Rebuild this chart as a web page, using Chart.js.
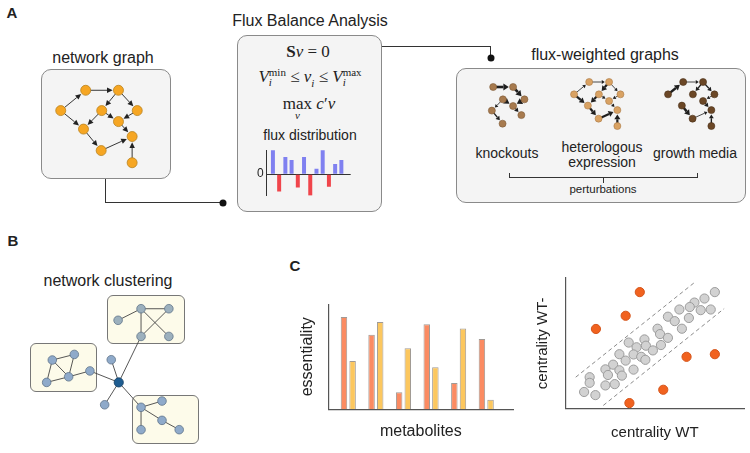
<!DOCTYPE html>
<html>
<head>
<meta charset="utf-8">
<script src="https://cdn.jsdelivr.net/npm/chart.js@4.4.1/dist/chart.umd.min.js"></script>
<style>
  html, body { margin: 0; padding: 0; }
  body { width: 750px; height: 453px; position: relative; overflow: hidden; background: #fff;
         font-family: "Liberation Sans", Arial, sans-serif; color: #222; }
  .box { position: absolute; box-sizing: border-box; background: #f4f4f4; border: 1px solid #8a8a8a; border-radius: 10px; }
  .cbox { position: absolute; box-sizing: border-box; background: #fdfbea; border: 1px solid #777; border-radius: 6px; }
  .lbl { position: absolute; white-space: nowrap; transform: translate(-50%, -50%); line-height: 1.15; }
  .letter { position: absolute; font-weight: bold; font-size: 15px; transform: translate(-50%, -50%); }
  .hl { position: absolute; border-top: 1px solid #333; height: 0; }
  .vl { position: absolute; border-left: 1px solid #333; width: 0; }
  .dot { position: absolute; width: 7px; height: 7px; border-radius: 50%; background: #111; transform: translate(-50%, -50%); }
  .eq { position: absolute; white-space: nowrap; transform: translate(-50%, -50%); font-family: "Liberation Serif", serif; font-size: 17px; }
  .ss { display: inline-block; vertical-align: -4px; font-size: 11px; line-height: 10px; }
  .op { position: relative; display: inline-block; }
  .under { position: absolute; left: 50%; top: 15px; transform: translateX(-50%); font-size: 11px; font-style: italic; }
  canvas { position: absolute; }
</style>
</head>
<body>

<!-- panel letters -->
<div class="letter" style="left:12px;top:12px">A</div>
<div class="letter" style="left:13px;top:240px">B</div>
<div class="letter" style="left:295px;top:265px">C</div>

<!-- A: network graph -->
<div class="lbl" style="left:103px;top:58px;font-size:16px">network graph</div>
<div class="box" style="left:41px;top:69px;width:130px;height:110px"></div>
<div class="vl" style="left:105px;top:179px;height:23px"></div>
<div class="hl" style="left:105px;top:202px;width:118px"></div>
<div class="dot" style="left:223px;top:202.5px"></div>
<canvas id="netA" width="130" height="110" style="left:41px;top:69px"></canvas>

<!-- A: FBA -->
<div class="lbl" style="left:310px;top:21px;font-size:16px">Flux Balance Analysis</div>
<div class="box" style="left:237px;top:35px;width:145px;height:177px"></div>
<div class="eq" style="left:308px;top:52px"><b>S</b><i>v</i> = 0</div>
<div class="eq" style="left:310px;top:78px"><i>V</i><span class="ss">min<br><i>i</i></span> &le; <i>v</i><sub style="font-size:11px"><i>i</i></sub> &le; <i>V</i><span class="ss">max<br><i>i</i></span></div>
<div class="eq" style="left:309px;top:104px"><span class="op">max<span class="under">v</span></span> <i>c</i>&prime;<i>v</i></div>
<div class="lbl" style="left:310px;top:135px;font-size:14px">flux distribution</div>
<canvas id="flux" width="98" height="66" style="left:255px;top:140px"></canvas>
<div class="hl" style="left:382px;top:46px;width:108px"></div>
<div class="vl" style="left:490px;top:46px;height:12px"></div>
<div class="dot" style="left:490.5px;top:58px"></div>

<!-- A: flux-weighted graphs -->
<div class="lbl" style="left:605px;top:55px;font-size:16px">flux-weighted graphs</div>
<div class="box" style="left:456px;top:68px;width:290px;height:135px"></div>
<canvas id="gKO" width="81" height="69" style="left:465px;top:73px"></canvas>
<canvas id="gHet" width="81" height="69" style="left:561px;top:68px"></canvas>
<canvas id="gGM" width="81" height="69" style="left:655px;top:68px"></canvas>
<div class="lbl" style="left:507px;top:153px;font-size:14px">knockouts</div>
<div class="lbl" style="left:602px;top:147px;font-size:14px">heterologous</div>
<div class="lbl" style="left:602px;top:162px;font-size:14px">expression</div>
<div class="lbl" style="left:695px;top:153px;font-size:14px">growth media</div>
<div style="position:absolute;left:509px;top:173px;width:189px;height:5px;border:1px solid #333;border-top:none;box-sizing:border-box"></div>
<div class="vl" style="left:603px;top:178px;height:5px"></div>
<div class="lbl" style="left:603px;top:190px;font-size:11.5px">perturbations</div>

<!-- B: network clustering -->
<div class="lbl" style="left:108px;top:281px;font-size:16px">network clustering</div>
<div class="cbox" style="left:107px;top:295px;width:78px;height:49px"></div>
<div class="cbox" style="left:30px;top:343px;width:67px;height:49px"></div>
<div class="cbox" style="left:132px;top:395px;width:67px;height:49px"></div>
<canvas id="clust" width="180" height="160" style="left:25px;top:290px"></canvas>

<!-- C -->
<canvas id="ess" width="219" height="145" style="left:297px;top:296px"></canvas>
<canvas id="cent" width="216" height="173" style="left:534px;top:270px"></canvas>

<script>
// ---------- data ----------
// A: metabolic network, node layout in box units (130 x 110)
const netX = [42.7, 78.7, 15.3, 60.3, 99.3, 78.7, 40.3, 93.7, 59.7, 93.7];
const netY = [17.3, 17.3, 40, 40, 40, 52.3, 60.7, 69, 84.7, 98.3];
const netEdges = [[2, 0], [0, 1], [1, 3], [1, 4], [2, 6], [3, 6], [3, 5], [4, 5], [5, 7], [6, 8], [8, 7], [9, 7]];

// A: flux distribution
const fluxVals = [3.1, -2.2, 2.2, 1.8, -1.7, 2.2, -2.7, 0.7, 3.1, -1.6, 1.3, 1.8];

// A: flux-weighted graphs, edges as [from, to, flux]
const allNodes = [0, 1, 2, 3, 4, 5, 6, 7, 8, 9];
const koNodes = [0, 1, 3, 4, 5, 6, 7, 8];
const koEdges = [[0, 1, 2.6], [1, 4, 2.6], [4, 5, 2.6], [3, 5, 2.6], [3, 6, 0.8], [5, 7, 1.4], [6, 8, 1.4]];
const hetEdges = [[2, 0, 0.8], [0, 1, 0.8], [1, 3, 2.2], [1, 4, 0.8], [2, 6, 2.2], [3, 6, 2.2], [3, 5, 0.8],
                  [4, 5, 0.8], [5, 7, 0.8], [6, 8, 2.2], [8, 7, 2.2], [9, 7, 2.2]];
const gmEdges = [[2, 0, 2.4], [0, 1, 0.8], [1, 3, 1.4], [1, 4, 1.4], [4, 5, 0.8], [5, 7, 1.4],
                 [6, 8, 2.4], [8, 7, 0.8], [9, 7, 1.4]];

// B: clustered network (units of 180 x 160)
const clX = [117.7, 147.3, 93.3, 117.7, 147.3, 23.3, 46.7, 40.7, 17.3, 63.3, 94, 86, 79, 117.7, 140, 140, 158.3, 117.7];
const clY = [14.3, 14.3, 26.7, 44, 44, 69.3, 63.3, 87.3, 93.3, 81, 93.3, 69, 117.3, 120, 113.3, 134, 144, 144];
const clGroup = ['t', 't', 't', 't', 't', 'l', 'l', 'l', 'l', 'l', 'hub', 'u', 'u', 'b', 'b', 'b', 'b', 'b'];
const clEdges = [[2, 0], [0, 1], [0, 3], [0, 4], [1, 3], [5, 6], [5, 7], [6, 7], [5, 8], [8, 7], [7, 9],
                 [10, 9], [10, 11], [10, 12], [10, 3], [10, 13], [13, 14], [13, 15], [15, 16], [13, 17]];

// C: essentiality per metabolite
const metabolites = [1, 2, 3, 4, 5, 6];
const essA = [0.88, 0.71, 0.16, 0.81, 0.25, 0.67];
const essB = [0.46, 0.83, 0.58, 0.40, 0.77, 0.09];

// C: centrality WT vs WT-
const grayX = [83.5, 77.7, 72.1, 69.5, 63.7, 75.6, 81.2, 69.0, 57.3, 61.1, 65.1, 51.5, 52.9, 57.3, 44.2, 35.4, 39.8, 45.0, 53.4,
               48.9, 30.2, 38.1, 42.4, 33.7, 44.7, 26.7, 22.4, 30.2, 38.1, 13.6, 23.8, 31.6, 13.6, 22.4, 27.6, 10.5, 16.8];
const grayY = [89.2, 84.3, 81.2, 77.8, 75.9, 75.4, 75.9, 69.4, 70.4, 67.0, 61.2, 61.2, 57.1, 54.2, 53.0, 50.6, 47.0, 48.2, 48.7,
               44.6, 41.7, 41.5, 39.7, 36.8, 37.4, 33.7, 30.1, 29.4, 29.9, 24.1, 25.8, 25.3, 19.8, 17.8, 18.8, 12.8, 10.4];
const outX = [41.6, 33.7, 17.1, 67.7, 83.5, 54.7, 35.8];
const outY = [89.2, 71.1, 61.0, 39.7, 41.7, 14.5, 4.3];
const bandUpX = [5.8, 73.0], bandUpY = [24.1, 97.5];
const bandLoX = [21.2, 88.7], bandLoY = [2.5, 76.6];

// ---------- helpers ----------
Chart.defaults.font.family = '"Liberation Sans", Arial, sans-serif';
Chart.defaults.color = '#222';

const pts = (xs, ys) => xs.map((x, i) => ({ x: x, y: ys[i] }));

// draws edges (optionally arrows) between nodes using the chart scales
function edgeLayer(xs, ys, edges, st) {
  return {
    id: 'edges',
    beforeDatasetsDraw(chart) {
      const ctx = chart.ctx, sx = chart.scales.x, sy = chart.scales.y;
      ctx.save();
      ctx.strokeStyle = st.color;
      ctx.fillStyle = st.color;
      edges.forEach(e => {
        const w = e[2] || st.width;
        const x1 = sx.getPixelForValue(xs[e[0]]), y1 = sy.getPixelForValue(ys[e[0]]);
        const x2 = sx.getPixelForValue(xs[e[1]]), y2 = sy.getPixelForValue(ys[e[1]]);
        const a = Math.atan2(y2 - y1, x2 - x1), c = Math.cos(a), s = Math.sin(a);
        ctx.lineWidth = w;
        ctx.beginPath();
        ctx.moveTo(x1, y1);
        if (st.arrows) {
          const ex = x2 - c * (st.r + 0.8), ey = y2 - s * (st.r + 0.8);
          const L = st.head + w * 1.3, H = st.headW + w * 0.8;
          const bx = ex - c * L, by = ey - s * L;
          ctx.lineTo(bx, by);
          ctx.stroke();
          ctx.beginPath();
          ctx.moveTo(ex, ey);
          ctx.lineTo(bx - s * H, by + c * H);
          ctx.lineTo(bx + s * H, by - c * H);
          ctx.closePath();
          ctx.fill();
        } else {
          ctx.lineTo(x2, y2);
          ctx.stroke();
        }
      });
      ctx.restore();
    }
  };
}

function graphChart(id, xs, ys, nodes, edges, st) {
  return new Chart(document.getElementById(id), {
    type: 'scatter',
    data: {
      datasets: [{
        data: nodes.map(i => ({ x: xs[i], y: ys[i] })),
        pointRadius: st.r,
        pointBackgroundColor: st.fill,
        pointBorderColor: st.stroke,
        pointBorderWidth: st.bw
      }]
    },
    options: {
      responsive: false, animation: false, events: [],
      layout: { padding: 0 },
      plugins: { legend: { display: false }, tooltip: { enabled: false } },
      scales: {
        x: { type: 'linear', display: false, min: 0, max: st.w },
        y: { type: 'linear', display: false, min: 0, max: st.h, reverse: true }
      }
    },
    plugins: [edgeLayer(xs, ys, edges, st)]
  });
}

// ---------- A ----------
graphChart('netA', netX, netY, allNodes, netEdges, {
  w: 130, h: 110, r: 5, fill: '#f6a623', stroke: '#b9831f', bw: 0.8,
  color: '#222', width: 0.9, arrows: true, head: 4.5, headW: 2
});

const smallStyle = (fill, stroke) => ({
  w: 130, h: 110, r: 3.5, fill: fill, stroke: stroke, bw: 0.6,
  color: '#1e1e1e', width: 1, arrows: true, head: 2, headW: 1.3
});
graphChart('gKO', netX, netY, koNodes, koEdges, smallStyle('#a77a4e', '#7d5a38'));
graphChart('gHet', netX, netY, allNodes, hetEdges, smallStyle('#d9a263', '#a97b48'));
graphChart('gGM', netX, netY, allNodes, gmEdges, smallStyle('#6b4726', '#4a3019'));

new Chart(document.getElementById('flux'), {
  type: 'bar',
  data: {
    datasets: [{
      data: fluxVals.map((v, i) => ({ x: i + 1, y: v })),
      backgroundColor: fluxVals.map(v => v >= 0 ? '#7f80f0' : '#f0454b'),
      barPercentage: 0.8, categoryPercentage: 0.8
    }]
  },
  options: {
    responsive: false, animation: false, events: [],
    layout: { padding: { left: 0, top: 6, right: 2.3, bottom: 2.3 } },
    plugins: { legend: { display: false }, tooltip: { enabled: false } },
    scales: {
      x: { type: 'linear', display: false, min: 0, max: 13.5, offset: false },
      y: {
        min: -2.75, max: 3.05,
        afterFit: s => { s.width = 11.7; },
        grid: { drawTicks: false, color: c => (c.tick && c.tick.value === 0) ? '#333' : 'rgba(0,0,0,0)' },
        border: { display: true, color: '#333', width: 1 },
        ticks: { stepSize: 1, padding: 3, font: { size: 12 }, color: '#222', callback: v => v === 0 ? '0' : '' }
      }
    }
  }
});

// ---------- B ----------
const clFill = { t: '#9cb0bd', l: '#8faaca', b: '#8faaca', u: '#8faaca', hub: '#1f5d91' };
new Chart(document.getElementById('clust'), {
  type: 'scatter',
  data: {
    datasets: [{
      data: pts(clX, clY),
      pointRadius: clGroup.map(g => g === 'hub' ? 4.6 : 4.3),
      pointBackgroundColor: clGroup.map(g => clFill[g]),
      pointBorderColor: clGroup.map(g => g === 'hub' ? '#123d63' : '#5f7489'),
      pointBorderWidth: 0.8
    }]
  },
  options: {
    responsive: false, animation: false, events: [],
    layout: { padding: 0 },
    plugins: { legend: { display: false }, tooltip: { enabled: false } },
    scales: {
      x: { type: 'linear', display: false, min: 0, max: 180 },
      y: { type: 'linear', display: false, min: 0, max: 160, reverse: true }
    }
  },
  plugins: [edgeLayer(clX, clY, clEdges, { color: '#444', width: 0.9, arrows: false })]
});

// ---------- C ----------
const axisBorder = { display: true, color: '#555', width: 1.2 };

new Chart(document.getElementById('ess'), {
  type: 'bar',
  data: {
    datasets: [
      { data: pts(metabolites, essA), backgroundColor: '#fb8b62', borderColor: '#a09a95', borderWidth: 1,
        categoryPercentage: 0.625, barPercentage: 0.75 },
      { data: pts(metabolites, essB), backgroundColor: '#fcc75e', borderColor: '#a09a95', borderWidth: 1,
        categoryPercentage: 0.625, barPercentage: 0.75 }
    ]
  },
  options: {
    responsive: false, animation: false, events: [],
    layout: { padding: { left: 0.7, top: 8.3, right: 3, bottom: 0 } },
    plugins: { legend: { display: false }, tooltip: { enabled: false } },
    scales: {
      x: {
        type: 'linear', min: 0.29, max: 6.97, offset: false,
        grid: { display: false }, border: axisBorder, ticks: { display: false },
        title: { display: true, text: 'metabolites', font: { size: 16 }, color: '#222', padding: { top: 4.7, bottom: 0 } }
      },
      y: {
        min: 0, max: 1,
        grid: { display: false }, border: axisBorder, ticks: { display: false },
        title: { display: true, text: 'essentiality', font: { size: 16 }, color: '#222', padding: { top: 0, bottom: 3.8 } }
      }
    }
  }
});

new Chart(document.getElementById('cent'), {
  type: 'scatter',
  data: {
    datasets: [
      { data: pts(bandUpX, bandUpY), showLine: true, borderColor: '#8a8a8a', borderWidth: 1, borderDash: [4, 3], pointRadius: 0, order: 3 },
      { data: pts(bandLoX, bandLoY), showLine: true, borderColor: '#8a8a8a', borderWidth: 1, borderDash: [4, 3], pointRadius: 0, order: 3 },
      { data: pts(grayX, grayY), pointRadius: 4.6, backgroundColor: '#d2d2d2', borderColor: '#9c9c9c', borderWidth: 1, order: 2 },
      { data: pts(outX, outY), pointRadius: 4.6, backgroundColor: '#f1621f', borderColor: '#d4541a', borderWidth: 1, order: 1 }
    ]
  },
  options: {
    responsive: false, animation: false, events: [],
    layout: { padding: { left: 0, top: 8, right: 2, bottom: 0.7 } },
    plugins: { legend: { display: false }, tooltip: { enabled: false } },
    scales: {
      x: {
        type: 'linear', min: 0, max: 100,
        grid: { display: false }, border: axisBorder, ticks: { display: false },
        title: { display: true, text: 'centrality WT', font: { size: 15 }, color: '#222', padding: { top: 7.6, bottom: 0 } }
      },
      y: {
        type: 'linear', min: 0, max: 100,
        grid: { display: false }, border: axisBorder, ticks: { display: false },
        title: { display: true, text: 'centrality WT-', font: { size: 15 }, color: '#222', padding: { top: 0, bottom: 5.3 } }
      }
    }
  }
});
</script>
</body>
</html>
